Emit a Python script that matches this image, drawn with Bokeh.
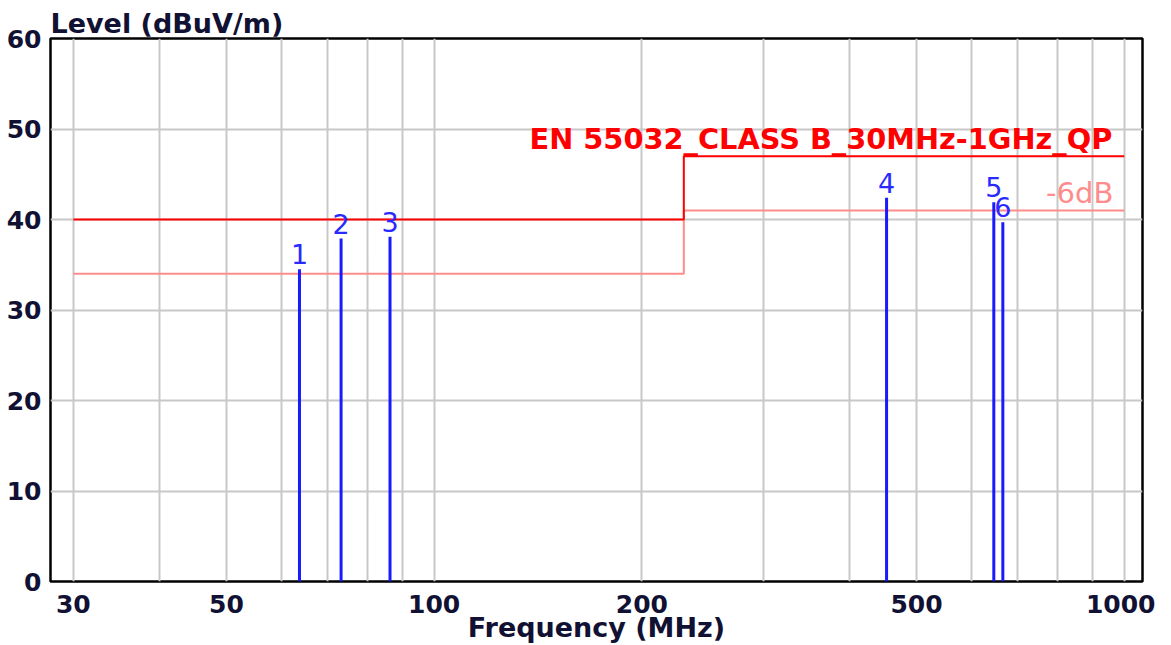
from bokeh.plotting import figure
from bokeh.models import Range1d, FixedTicker, PrintfTickFormatter, Label, ColumnDataSource, Title
from bokeh.core.properties import value
from bokeh.embed import file_html
from bokeh.resources import INLINE

# ---- data ----
marker_freq = [63.8, 73.3, 86.3, 452.4, 647.0, 666.8]
marker_level = [34.5, 37.9, 38.1, 42.4, 41.9, 39.7]
marker_label = ["1", "2", "3", "4", "5", "6"]

limit_freq = [30, 230, 230, 1000]
limit_qp = [40, 40, 47, 47]
limit_6db = [34, 34, 41, 41]

x_major_ticks = [30, 50, 100, 200, 500, 1000]
x_minor_ticks = [40, 60, 70, 80, 90, 300, 400, 600, 700, 800, 900]
y_ticks = [0, 10, 20, 30, 40, 50, 60]

limit_name = "EN 55032_CLASS B_30MHz-1GHz_QP"
margin_name = "-6dB"
y_title = "Level (dBuV/m)"
x_title = "Frequency (MHz)"

font = "DejaVu Sans"
dark = "#111133"

# ---- figure ----
p = figure(width=1155, height=645, x_axis_type="log",
           x_range=Range1d(27.8, 1062.6), y_range=Range1d(0, 60),
           output_backend="svg", toolbar_location=None, title=None,
           min_border_left=50, min_border_right=13,
           min_border_top=38, min_border_bottom=63)

t = Title(text=y_title, align="left", offset=0, standoff=0,
          text_font=font, text_font_style="bold", text_font_size="27px",
          text_color=dark)
p.add_layout(t, "above")

p.background_fill_color = "white"
p.border_fill_color = "white"
p.outline_line_color = "black"
p.outline_line_width = 2.5

p.xaxis.ticker = FixedTicker(ticks=x_major_ticks, minor_ticks=x_minor_ticks)
p.xaxis.formatter = PrintfTickFormatter(format="%d")
p.yaxis.ticker = FixedTicker(ticks=y_ticks)
for ax in (p.xaxis, p.yaxis):
    ax.axis_line_color = None
    ax.major_tick_line_color = None
    ax.minor_tick_line_color = None
    ax.major_label_text_font = font
    ax.major_label_text_font_style = "bold"
    ax.major_label_text_font_size = "25px"
    ax.major_label_text_color = dark
p.xaxis.major_label_standoff = 7
p.yaxis.major_label_standoff = 3
p.xaxis.axis_label = x_title
p.xaxis.axis_label_standoff = -4
p.xaxis.axis_label_text_font = font
p.xaxis.axis_label_text_font_style = "bold"
p.xaxis.axis_label_text_font_size = "27px"
p.xaxis.axis_label_text_color = dark

grid_color = "#c8c8c8"
p.xgrid.grid_line_color = grid_color
p.xgrid.grid_line_width = 2
p.xgrid.minor_grid_line_color = grid_color
p.xgrid.minor_grid_line_width = 2
p.ygrid.grid_line_color = grid_color
p.ygrid.grid_line_width = 2

# limit lines
p.line(limit_freq, limit_6db, line_color="#ff8c8c", line_width=2)
p.line(limit_freq, limit_qp, line_color="#ff0000", line_width=2)

# markers
src = ColumnDataSource(dict(f=marker_freq, lvl=marker_level, lab=marker_label,
                            base=[0] * len(marker_freq)))
p.segment(x0="f", y0="base", x1="f", y1="lvl", source=src,
          line_color="#1a1aff", line_width=3)
p.text(x="f", y="lvl", text="lab", source=src, text_align="center",
       text_baseline="bottom", y_offset=-5,
       text_font=value(font), text_font_size=value("27px"),
       text_color="#2a2aff")

# limit texts
p.add_layout(Label(x=1000, y=47, text=limit_name, text_align="right",
                   text_baseline="bottom", x_offset=-12, y_offset=0,
                   text_font=font, text_font_style="bold",
                   text_font_size="28.8px", text_color="#ff0000"))
p.add_layout(Label(x=1000, y=41, text=margin_name, text_align="right",
                   text_baseline="bottom", x_offset=-11, y_offset=0,
                   text_font=font, text_font_size="29px",
                   text_color="#ff8c8c"))

open("out.html", "w").write(file_html(p, INLINE))
